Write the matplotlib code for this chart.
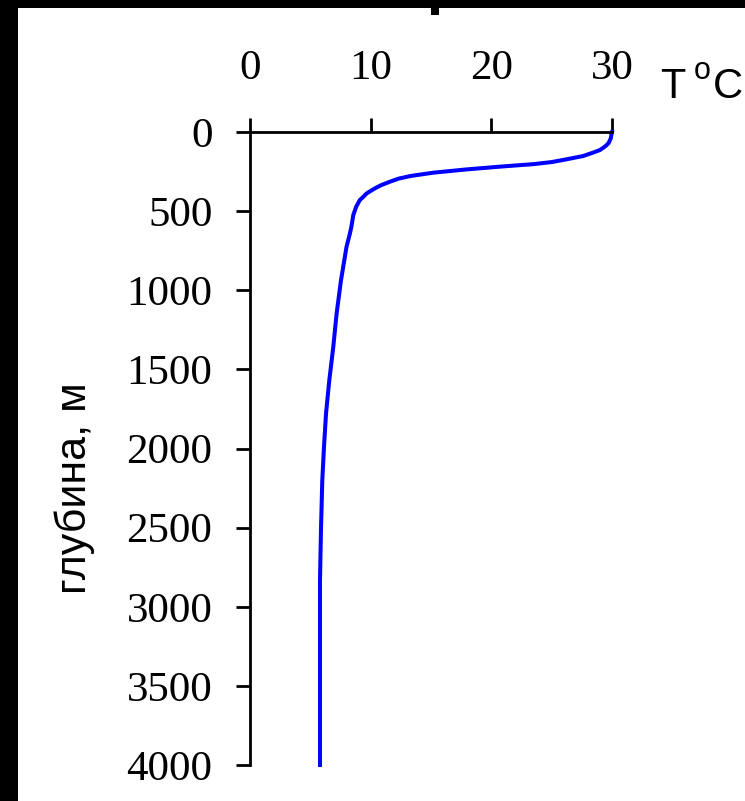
import matplotlib
matplotlib.use("Agg")
import matplotlib.pyplot as plt
from matplotlib.patches import Rectangle

# temperature profile
depth = [0, 8, 40, 72, 93, 114, 131, 152, 173, 190, 203, 219, 236, 257, 278,
         295, 314, 335, 350, 363, 388, 409, 430, 472, 525, 599, 641, 725,
         937, 1146, 1359, 1570, 1779, 1992, 2203, 2519, 2835, 3200, 4000]
temp = [30.0, 29.97, 29.9, 29.7, 29.4, 29.0, 28.4, 27.6, 26.2, 25.0, 23.5,
        20.7, 18.0, 15.2, 13.3, 12.3, 11.6, 10.9, 10.5, 10.2, 9.67, 9.4, 9.1,
        8.8, 8.56, 8.4, 8.28, 8.0, 7.54, 7.18, 6.9, 6.57, 6.3, 6.13, 5.99,
        5.88, 5.8, 5.8, 5.8]

x_ticks = [0, 10, 20, 30]
y_ticks = [0, 500, 1000, 1500, 2000, 2500, 3000, 3500, 4000]

W, H = 745, 801


def px(x, y):
    """pixel position -> figure fraction"""
    return x / W, 1 - y / H


fig = plt.figure(figsize=(W / 100, H / 100), dpi=100, facecolor="black")

# white page with black frame on left/top, plus a stray mark at the top
fig.patches.append(Rectangle(px(18, H), (W - 18) / W, (H - 8) / H,
                             transform=fig.transFigure, facecolor="white",
                             edgecolor="none", zorder=-2))
fig.patches.append(Rectangle(px(431, 15), 8 / W, 7 / H,
                             transform=fig.transFigure, facecolor="black",
                             edgecolor="none", zorder=-1))

left, top = px(250, 132)
right, bottom = px(612, 765)
ax = fig.add_axes([left, bottom, right - left, top - bottom])
ax.set_zorder(3)
ax.patch.set_alpha(0)

ax.plot(temp, depth, color="#0000ff", linewidth=2.9, clip_on=False,
        solid_joinstyle="round")

ax.set_xlim(0, 30)
ax.set_ylim(4000, 0)
ax.set_xticks(x_ticks)
ax.set_yticks(y_ticks)

for side in ["right", "bottom"]:
    ax.spines[side].set_visible(False)
for side in ["top", "left"]:
    ax.spines[side].set_linewidth(2)

ax.xaxis.tick_top()
ax.tick_params(axis="both", direction="out", length=10, width=2,
               labelsize=31)
ax.tick_params(axis="x", pad=22)
ax.tick_params(axis="y", pad=17)
for lab in ax.get_xticklabels() + ax.get_yticklabels():
    lab.set_fontfamily("Liberation Serif")

# axis captions
fig.text(*px(660, 98), "T", fontsize=30, fontfamily="Liberation Sans",
         ha="left", va="baseline", zorder=4)
fig.text(*px(694, 79), "o", fontsize=22, fontfamily="Liberation Sans",
         ha="left", va="baseline", zorder=4)
fig.text(*px(713, 98), "C", fontsize=30, fontfamily="Liberation Sans",
         ha="left", va="baseline", zorder=4)
fig.text(*px(75, 488), "глубина, м", fontsize=31,
         fontfamily="Liberation Sans", rotation=90, ha="center", va="center",
         zorder=4)

fig.savefig("out.png", dpi=100, facecolor=fig.get_facecolor())
